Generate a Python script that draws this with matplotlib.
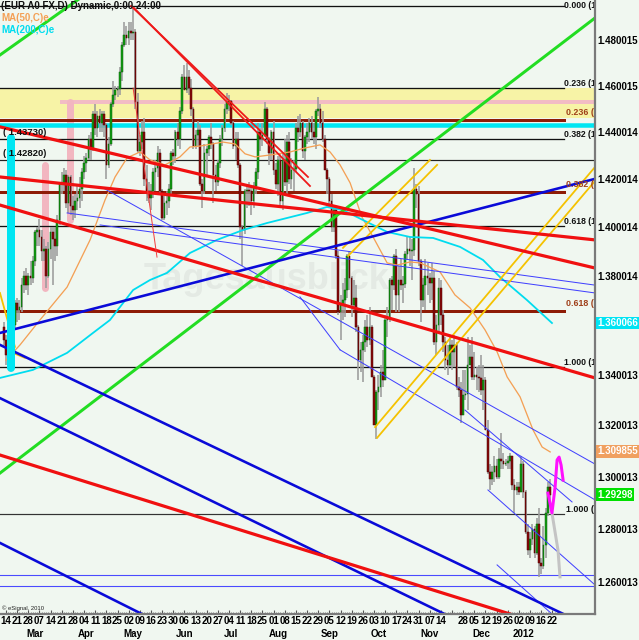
import numpy as np
import matplotlib
matplotlib.use("Agg")
import matplotlib.pyplot as plt
from matplotlib.ticker import NullLocator, FixedLocator
import matplotlib.transforms as mtransforms

# ---------------- data (EUR/USD daily) ----------------
first_index = -1   # first bar is one trading day before the first week label (14 Feb 2011)

opens = [1.3590,
 1.3540,1.3480,1.3510,1.3550,1.3600, 1.3690,1.3660,1.3670,1.3760,1.3800,
 1.3760,1.3800,1.3790,1.3860,1.3980, 1.3990,1.3960,1.3900,1.3910,1.3800,
 1.3910,1.3980,1.3950,1.3920,1.4030, 1.4180,1.4185,1.4220,1.4100,1.4210,
 1.4090,1.4070,1.4110,1.4120,1.4160, 1.4230,1.4270,1.4290,1.4370,1.4330,
 1.4480,1.4420,1.4470,1.4440,1.4480, 1.4430,1.4260,1.4350,1.4520,1.4560,
 1.4580,1.4585,1.4660,1.4780,1.4820, 1.4810,1.4840,1.4830,1.4835,1.4530,
 1.4320,1.4360,1.4400,1.4200,1.4150, 1.4120,1.4150,1.4230,1.4250,1.4310,
 1.4150,1.4040,1.4100,1.4110,1.4160, 1.4310,1.4300,1.4400,1.4370,1.4490,
 1.4640,1.4580,1.4640,1.4590,1.4500, 1.4340,1.4390,1.4410,1.4180,1.4150,
 1.4310,1.4330,1.4380,1.4350,1.4220, 1.4190,1.4270,1.4370,1.4420,1.4500,
 1.4530,1.4535,1.4440,1.4340,1.4370, 1.4260,1.4000,1.3990,1.4150,1.4155,
 1.4150,1.4110,1.4170,1.4230,1.4400, 1.4370,1.4390,1.4500,1.4370,1.4310,
 1.4400,1.4240,1.4180,1.4280,1.4110, 1.4280,1.4190,1.4360,1.4200,1.4240,
 1.4245,1.4420,1.4400,1.4440,1.4320, 1.4380,1.4400,1.4440,1.4400,1.4380,
 1.4490,1.4500,1.4440,1.4370,1.4240, 1.4200,1.4110,1.4000,1.4070,1.3880,
 1.3650,1.3680,1.3700,1.3740,1.3880, 1.3790,1.3680,1.3710,1.3590,1.3460,
 1.3500,1.3530,1.3590,1.3540,1.3590, 1.3390,1.3200,1.3330,1.3350,1.3410,
 1.3380,1.3620,1.3625,1.3780,1.3760, 1.3880,1.3720,1.3780,1.3760,1.3765,
 1.3890,1.3910,1.3900,1.3905,1.4160, 1.4140,1.3860,1.3700,1.3760,1.3800,
 1.3790,1.3770,1.3790,1.3530,1.3600, 1.3750,1.3640,1.3530,1.3460,1.3440,
 1.3520,1.3490,1.3520,1.3350,1.3340, 1.3240,1.3320,1.3325,1.3440,1.3470,
 1.3390,1.3400,1.3390,1.3385,1.3340, 1.3380,1.3180,1.3020,1.2990,1.3020,
 1.3040,1.3000,1.3070,1.3060,1.3050, 1.3055,1.3060,1.3080,1.2970,1.2950,
 1.2960,1.2940,1.3050,1.2940,1.2790, 1.2720,1.2760,1.2800,1.2710,1.2820,
 1.2670,1.2660,1.2740,1.2860,1.2960]

highs = [1.3610,
 1.3560,1.3530,1.3590,1.3630,1.3700, 1.3710,1.3700,1.3790,1.3820,1.3830,
 1.3810,1.3860,1.3880,1.3990,1.4000, 1.4035,1.3990,1.3950,1.3920,1.3940,
 1.4000,1.4000,1.4000,1.4050,1.4190, 1.4230,1.4250,1.4240,1.4220,1.4220,
 1.4130,1.4140,1.4170,1.4210,1.4250, 1.4300,1.4310,1.4390,1.4400,1.4490,
 1.4520,1.4490,1.4500,1.4490,1.4490, 1.4440,1.4380,1.4530,1.4620,1.4600,
 1.4600,1.4680,1.4790,1.4880,1.4860, 1.4880,1.4880,1.4940,1.4850,1.4570,
 1.4390,1.4450,1.4460,1.4260,1.4190, 1.4180,1.4250,1.4280,1.4340,1.4330,
 1.4160,1.4130,1.4150,1.4180,1.4320, 1.4330,1.4410,1.4440,1.4510,1.4650,
 1.4690,1.4700,1.4670,1.4630,1.4510, 1.4410,1.4450,1.4430,1.4200,1.4350,
 1.4340,1.4390,1.4440,1.4360,1.4260, 1.4280,1.4390,1.4430,1.4520,1.4570,
 1.4560,1.4540,1.4450,1.4400,1.4400, 1.4270,1.4010,1.4160,1.4180,1.4190,
 1.4170,1.4190,1.4250,1.4440,1.4420, 1.4440,1.4530,1.4510,1.4380,1.4410,
 1.4450,1.4270,1.4300,1.4310,1.4310, 1.4370,1.4390,1.4400,1.4290,1.4280,
 1.4440,1.4470,1.4480,1.4450,1.4390, 1.4440,1.4460,1.4470,1.4440,1.4500,
 1.4550,1.4520,1.4490,1.4390,1.4250, 1.4210,1.4140,1.4090,1.4080,1.3900,
 1.3720,1.3770,1.3790,1.3890,1.3900, 1.3800,1.3780,1.3760,1.3600,1.3530,
 1.3560,1.3620,1.3640,1.3670,1.3600, 1.3400,1.3340,1.3400,1.3440,1.3500,
 1.3640,1.3670,1.3790,1.3800,1.3890, 1.3910,1.3840,1.3870,1.3800,1.3900,
 1.3960,1.3960,1.3950,1.4250,1.4180, 1.4170,1.3870,1.3790,1.3870,1.3850,
 1.3810,1.3850,1.3820,1.3640,1.3790, 1.3780,1.3660,1.3550,1.3520,1.3560,
 1.3540,1.3560,1.3530,1.3390,1.3370, 1.3420,1.3420,1.3550,1.3520,1.3550,
 1.3490,1.3430,1.3440,1.3480,1.3440, 1.3390,1.3220,1.3050,1.3040,1.3080,
 1.3070,1.3110,1.3170,1.3090,1.3070, 1.3080,1.3090,1.3080,1.2990,1.2980,
 1.2980,1.3080,1.3060,1.2950,1.2820, 1.2790,1.2820,1.2810,1.2840,1.2880,
 1.2690,1.2810,1.2880,1.2980,1.2990]

lows = [1.3520,
 1.3440,1.3430,1.3480,1.3520,1.3580, 1.3610,1.3620,1.3650,1.3730,1.3740,
 1.3720,1.3760,1.3770,1.3840,1.3920, 1.3920,1.3860,1.3860,1.3750,1.3790,
 1.3870,1.3760,1.3860,1.3880,1.4010, 1.4140,1.4150,1.4080,1.4060,1.4050,
 1.4030,1.4040,1.4070,1.4080,1.4110, 1.4200,1.4230,1.4280,1.4280,1.4320,
 1.4390,1.4380,1.4400,1.4400,1.4380, 1.4200,1.4250,1.4340,1.4510,1.4540,
 1.4550,1.4560,1.4620,1.4770,1.4780, 1.4780,1.4800,1.4800,1.4500,1.4310,
 1.4300,1.4330,1.4170,1.4110,1.4100, 1.4070,1.4120,1.4150,1.4210,1.4140,
 1.4030,1.4030,1.4050,1.4080,1.4140, 1.4260,1.4270,1.4340,1.4330,1.4480,
 1.4580,1.4570,1.4560,1.4470,1.4330, 1.4330,1.4340,1.4170,1.4080,1.4140,
 1.4220,1.4300,1.4330,1.4100,1.4150, 1.4170,1.4250,1.4340,1.4400,1.4480,
 1.4490,1.4430,1.4330,1.4280,1.4250, 1.3950,1.3840,1.3970,1.4080,1.4090,
 1.4050,1.4080,1.4140,1.4200,1.4320, 1.4340,1.4380,1.4350,1.4260,1.4280,
 1.4220,1.4160,1.4130,1.4080,1.4070, 1.4170,1.4140,1.4180,1.4160,1.4150,
 1.4230,1.4360,1.4380,1.4290,1.4280, 1.4350,1.4360,1.4370,1.4350,1.4330,
 1.4470,1.4420,1.4360,1.4240,1.4140, 1.4080,1.3980,1.3980,1.3870,1.3640,
 1.3540,1.3620,1.3630,1.3710,1.3740, 1.3630,1.3660,1.3570,1.3380,1.3410,
 1.3370,1.3490,1.3510,1.3520,1.3390, 1.3200,1.3145,1.3260,1.3310,1.3350,
 1.3380,1.3550,1.3610,1.3660,1.3740, 1.3650,1.3650,1.3740,1.3690,1.3750,
 1.3870,1.3840,1.3780,1.3880,1.4080, 1.3840,1.3610,1.3670,1.3660,1.3720,
 1.3690,1.3700,1.3520,1.3480,1.3570, 1.3600,1.3490,1.3420,1.3400,1.3430,
 1.3420,1.3430,1.3340,1.3310,1.3210, 1.3240,1.3300,1.3260,1.3440,1.3380,
 1.3380,1.3340,1.3330,1.3320,1.3260, 1.3180,1.3010,1.2950,1.2970,1.2980,
 1.2990,1.2990,1.3030,1.3030,1.3040, 1.3030,1.3030,1.2950,1.2860,1.2930,
 1.2930,1.2940,1.2920,1.2780,1.2700, 1.2690,1.2740,1.2690,1.2700,1.2620,
 1.2630,1.2650,1.2690,1.2850,1.2900]

closes = [1.3540,
 1.3480,1.3510,1.3550,1.3600,1.3690, 1.3660,1.3670,1.3760,1.3800,1.3760,
 1.3800,1.3790,1.3860,1.3980,1.3990, 1.3960,1.3900,1.3910,1.3800,1.3910,
 1.3980,1.3950,1.3920,1.4030,1.4180, 1.4185,1.4220,1.4100,1.4210,1.4090,
 1.4070,1.4110,1.4120,1.4160,1.4230, 1.4270,1.4290,1.4370,1.4330,1.4480,
 1.4420,1.4470,1.4440,1.4480,1.4430, 1.4260,1.4350,1.4520,1.4560,1.4580,
 1.4585,1.4660,1.4780,1.4820,1.4810, 1.4840,1.4830,1.4835,1.4530,1.4320,
 1.4360,1.4400,1.4200,1.4150,1.4120, 1.4150,1.4230,1.4250,1.4310,1.4150,
 1.4040,1.4100,1.4110,1.4160,1.4310, 1.4300,1.4400,1.4370,1.4490,1.4640,
 1.4580,1.4640,1.4590,1.4500,1.4340, 1.4390,1.4410,1.4180,1.4150,1.4310,
 1.4330,1.4380,1.4350,1.4220,1.4190, 1.4270,1.4370,1.4420,1.4500,1.4530,
 1.4535,1.4440,1.4340,1.4370,1.4260, 1.4000,1.3990,1.4150,1.4155,1.4150,
 1.4110,1.4170,1.4230,1.4400,1.4370, 1.4390,1.4500,1.4370,1.4310,1.4400,
 1.4240,1.4180,1.4280,1.4110,1.4280, 1.4190,1.4360,1.4200,1.4240,1.4245,
 1.4420,1.4400,1.4440,1.4320,1.4380, 1.4400,1.4440,1.4400,1.4380,1.4490,
 1.4500,1.4440,1.4370,1.4240,1.4200, 1.4110,1.4000,1.4070,1.3880,1.3650,
 1.3680,1.3700,1.3740,1.3880,1.3790, 1.3680,1.3710,1.3590,1.3460,1.3500,
 1.3530,1.3590,1.3540,1.3590,1.3390, 1.3200,1.3330,1.3350,1.3410,1.3380,
 1.3620,1.3625,1.3780,1.3760,1.3880, 1.3720,1.3780,1.3760,1.3765,1.3890,
 1.3910,1.3900,1.3905,1.4160,1.4140, 1.3860,1.3700,1.3760,1.3800,1.3790,
 1.3770,1.3790,1.3530,1.3600,1.3750, 1.3640,1.3530,1.3460,1.3440,1.3520,
 1.3490,1.3520,1.3350,1.3340,1.3240, 1.3320,1.3325,1.3440,1.3470,1.3390,
 1.3400,1.3390,1.3385,1.3340,1.3380, 1.3180,1.3020,1.2990,1.3020,1.3040,
 1.3000,1.3070,1.3060,1.3050,1.3055, 1.3060,1.3080,1.2970,1.2950,1.2960,
 1.2940,1.3050,1.2940,1.2790,1.2720, 1.2760,1.2800,1.2710,1.2820,1.2670,
 1.2660,1.2740,1.2860,1.2960,1.2930]

week_labels = ["14","21","28","07","14","21","28","04","11","18","25","02","09","16",
               "23","30","06","13","20","27","04","11","18","25","01","08","15","22",
               "29","05","12","19","26","03","10","17","24","31","07","14","","28",
               "05","12","19","26","02","09","16","22"]
month_labels = ["Mar","Apr","May","Jun","Jul","Aug","Sep","Oct","Nov","Dec","2012"]
month_first_bar = [11, 34, 55, 78, 99, 120, 143, 165, 188, 211, 230]

ytick_vals = [1.480015,1.460015,1.440014,1.420014,1.400014,1.380014,
              1.340013,1.320013,1.300013,1.280013,1.260013]
ytick_text = ["1.480015","1.460015","1.440014","1.420014","1.400014","1.380014",
              "1.340013","1.320013","1.300013","1.280013","1.260013"]

ma50_idx = [0,6.3,15.2,27.4,37.7,44.4,48.9,54.3,60.1,64.6,71.3,78.0,82.5,87.0,97.3,
            102.7,107.2,111.7,118.4,127.4,134.1,140.8,145.3,149.8,154.3,159.6,164.6,
            170.9,175.3,181.2,185.7,194.6,201.3,208.1,214.8,220.2,224.7,230.5,236.3,240.4,244.0]
ma50_val = [1.3458,1.3519,1.3619,1.3753,1.3947,1.4113,1.4210,1.4291,1.4316,1.4282,1.4261,
            1.4295,1.4337,1.4341,1.4358,1.4350,1.4308,1.4295,1.4303,1.4316,1.4333,1.4346,
            1.4316,1.4261,1.4185,1.4042,1.3959,1.3852,1.3843,1.3856,1.3852,1.3815,1.3721,
            1.3668,1.3579,1.3491,1.3391,1.3312,1.3182,1.3115,1.3096]
ma200_idx = [-2.7,12.1,27.4,39.0,46.6,57.0,64.6,72.2,82.5,94.6,106.3,117.0,126.0,135.0,
             143.9,151.1,161.9,170.9,181.2,191.5,203.6,213.9,221.5,233.6,244.8]
ma200_val = [1.3387,1.3419,1.3487,1.3567,1.3619,1.3741,1.3782,1.3811,1.3893,1.3947,1.3988,
             1.4017,1.4038,1.4059,1.4084,1.4071,1.4021,1.3980,1.3959,1.3955,1.3918,1.3864,
             1.3794,1.3700,1.3607]

# trend lines: (index1, price1, index2, price2)
red_thick = [(-2.7,1.4423,264.1,1.3831),(-2.7,1.4210,264.1,1.3947),
             (-2.7,1.4092,264.1,1.3387),(-2.7,1.3084,264.1,1.2383)]
red_thin = [(56.1,1.4950,135.4,1.4210),(57.4,1.4941,136.3,1.4172)]
red_steep = [(57.0,1.4590,67.7,1.3876)]
green_lines = [(-2.7,1.4734,42.2,1.5048),(-2.7,1.3014,264.1,1.4897)]
blue_thick = [(-2.7,1.3567,264.1,1.4202),(-2.7,1.3519,264.1,1.2425),
              (-2.7,1.3307,264.1,1.2213),(-2.7,1.2747,131.8,1.2191)]
blue_thin = [(27.4,1.4059,264.1,1.3761),(42.2,1.4009,264.1,1.3729),(43.5,1.4164,264.1,1.3049),
             (131.8,1.3713,149.8,1.3499),(149.8,1.3499,264.1,1.2911),(205.8,1.3260,253.8,1.2903),
             (216.1,1.2949,264.1,1.2589),(220.2,1.2664,245.3,1.2477)]
blue_levels = [1.2626, 1.2585]
gold_lines = [(165.5,1.3193,264.1,1.4252),(166.4,1.3151,264.1,1.4193),
              (151.1,1.3914,190.1,1.4282),(153.4,1.3881,193.3,1.4261),
              (-2.7,1.3729,4.0,1.3511),(3.1,1.3487,8.5,1.3467)]
fib_black = [1.4950,1.4590,1.4373,1.4005,1.3431]
fib_black_lab = ["0.000 (1","0.236 (1","0.382 (1","0.618 (1","1.000 (1"]
fib_brown = [1.4452,1.4147,1.3656]
fib_brown_lab = ["0.236 (","0.382 (","0.618 ("]
fib_end = 1.2857
level_1428 = 1.4282
yellow_band = (1.4461, 1.4590)
pink_level = (24.2, 1.4530)
pink_bars = [(28.7,1.4530,1.4030),(17.5,1.4261,1.3749)]
cyan_level = 1.4431
cyan_bar = (2.2,1.4375,1.3427)
magenta_idx = [243.0,244.8,246.2,247.1,248.0,248.9,249.8]
magenta_val = [1.2937,1.2861,1.2960,1.3065,1.3076,1.3045,1.2987]
grey_idx = [244.8,247.5,248.4]
grey_val = [1.2861,1.2720,1.2619]
last_boxes = [(1.3607,"1.360066","#00e4f4"),(1.3099,"1.309855","#f0a060"),(1.2930,"1.29298","#00e000")]

# ---------------- figure ----------------
BG = "#f0f7f0"
FONT = ["Liberation Sans Narrow", "Liberation Sans", "DejaVu Sans"]
plt.rcParams["font.family"] = FONT
PX = 0.72  # points per pixel at 100 dpi

fig = plt.figure(figsize=(6.39, 6.40), dpi=100, facecolor=BG)
ax = fig.add_axes([0, 26/640, 595/639, 614/640], facecolor=BG)
ax.set_yscale("log")
ax.set_xlim(-2.69, 264.1)
ax.set_ylim(1.24808, 1.49766)

# watermark
ax.text(117, 1.3782, "Tagesausblick", fontsize=26, fontweight="bold", color="#e4eae4",
        ha="center", va="center", zorder=0.5, family=["Liberation Sans", "DejaVu Sans"])

# bands and horizontal levels
ax.axhspan(yellow_band[0], yellow_band[1], color="#f7f3a6", zorder=1, lw=0)
ax.plot([pink_level[0], 264.1], [pink_level[1]]*2, color="#f2bcc4", lw=4*PX, zorder=1.2,
        solid_capstyle="butt")
for xi, p1, p2 in pink_bars:
    ax.plot([xi, xi], [p1, p2], color="#f2b6c0", lw=7*PX, zorder=1.2, solid_capstyle="round")
ax.axhline(cyan_level, color="#00e6f2", lw=4.5*PX, zorder=1.3)
ax.plot([cyan_bar[0]]*2, [cyan_bar[1], cyan_bar[2]], color="#00e6f2", lw=8*PX,
        zorder=3.5, solid_capstyle="round")

lab_x = 250.0
for k, (p, t) in enumerate(zip(fib_black, fib_black_lab)):
    ax.plot([-2.7, lab_x], [p, p], color="#111111", lw=1.3*PX, zorder=1.4)
    if k == 0:
        ax.text(lab_x, 1 - 0.5/614, t, transform=mtransforms.blended_transform_factory(
                ax.transData, ax.transAxes), fontsize=6.2, fontweight="bold",
                color="#111111", ha="left", va="top", zorder=6)
    else:
        ax.text(lab_x, p, t, fontsize=6.2, fontweight="bold", color="#111111",
                ha="left", va="bottom", zorder=6)
for p, t in zip(fib_brown, fib_brown_lab):
    ax.plot([-2.7, lab_x], [p, p], color="#8e1c06", lw=3*PX, zorder=1.4)
    ax.text(lab_x+1, p*1.001, t, fontsize=6.4, fontweight="bold", color="#a0401a",
            ha="left", va="bottom", zorder=6)
ax.plot([-2.7, lab_x], [fib_end]*2, color="#333333", lw=1.2*PX, zorder=1.4)
ax.text(lab_x+1, fib_end, "1.000 (", fontsize=6.4, fontweight="bold", color="#111111",
        ha="left", va="bottom", zorder=6)
ax.axhline(level_1428, color="#222222", lw=1.2*PX, zorder=1.4)
ax.text(-1.5, fib_black[2]*1.0005, "( 1.43730)", fontsize=6.8, fontweight="bold",
        color="#111111", ha="left", va="bottom", zorder=6)
ax.text(-1.5, level_1428*1.0005, "( 1.42820)", fontsize=6.8, fontweight="bold",
        color="#111111", ha="left", va="bottom", zorder=6)
for p in blue_levels:
    ax.axhline(p, color="#4a4aff", lw=1.1*PX, zorder=1.5)

# candles
idx = np.arange(len(closes)) + first_index
o = np.array(opens); h = np.array(highs); l = np.array(lows); c = np.array(closes)
ax.vlines(idx, l, h, color="#9c9c9c", lw=1.6*PX, zorder=2)
up = c >= o
body_lo = np.minimum(o, c); body_h = np.maximum(np.abs(c - o), 0.0004)
ax.bar(idx[up], body_h[up], bottom=body_lo[up], width=0.72, color="#12a012",
       edgecolor="#0a5a0a", lw=0.35, zorder=2.2)
ax.bar(idx[~up], body_h[~up], bottom=body_lo[~up], width=0.72, color="#8a0a0a",
       edgecolor="#4a0000", lw=0.35, zorder=2.2)

# moving averages
ax.plot(ma50_idx, ma50_val, color="#f4a055", lw=1.3*PX, zorder=3)
ax.plot(ma200_idx, ma200_val, color="#00dcef", lw=1.8*PX, zorder=3)

def seg(lst, **kw):
    for a, b, cc, d in lst:
        ax.plot([a, cc], [b, d], **kw)

seg(blue_thin, color="#4040ff", lw=1.0*PX, zorder=3.2)
seg(gold_lines, color="#f5c200", lw=1.8*PX, zorder=3.3)
seg(green_lines, color="#22dd22", lw=3*PX, zorder=3.4)
seg(blue_thick, color="#0a0ad8", lw=2.6*PX, zorder=3.4)
seg(red_thick, color="#f01010", lw=3.2*PX, zorder=3.5)
seg(red_thin, color="#ee1a1a", lw=1.8*PX, zorder=3.5)
seg(red_steep, color="#f04040", lw=1.0*PX, zorder=3.5)
ax.plot(grey_idx, grey_val, color="#c4c4c4", lw=3*PX, zorder=3.6)
ax.plot(magenta_idx, magenta_val, color="#ff10ff", lw=3*PX, zorder=3.7)

# axes styling
for s in ["top", "left"]:
    ax.spines[s].set_visible(False)
for s in ["right", "bottom"]:
    ax.spines[s].set_color("#7a7a7a")
    ax.spines[s].set_linewidth(1.6)
    ax.spines[s].set_zorder(8)

ax.yaxis.set_ticks_position("right")
ax.yaxis.set_major_locator(FixedLocator(ytick_vals))
ax.yaxis.set_minor_locator(NullLocator())
ax.set_yticklabels(ytick_text)
ax.tick_params(axis="y", which="both", length=0, pad=2, labelsize=7)
for t in ax.get_yticklabels():
    t.set_fontweight("bold")

week_pos = [5*k for k in range(len(week_labels))]
ax.set_xticks(week_pos)
ax.set_xticklabels([])
ax.xaxis.set_minor_locator(FixedLocator(np.arange(0, 250)))
ax.tick_params(axis="x", which="major", direction="in", length=3, color="#555555")
ax.tick_params(axis="x", which="minor", direction="in", length=1.5, color="#777777")
tr = mtransforms.blended_transform_factory(ax.transData, ax.transAxes)
for xp, t in zip(week_pos, week_labels):
    ax.text(xp, -7/614, t, transform=tr, fontsize=7, fontweight="bold", ha="center",
            va="center", clip_on=False)
for fb, t in zip(month_first_bar, month_labels):
    ax.text(fb + 2, -20/614, t, transform=tr, fontsize=7, fontweight="bold", ha="center",
            va="center", clip_on=False)

# last-value boxes on the price axis
trr = mtransforms.blended_transform_factory(ax.transAxes, ax.transData)
for p, t, col in last_boxes:
    ax.text(1.004, p, t, transform=trr, fontsize=7, fontweight="bold", color="white",
            ha="left", va="center", clip_on=False, zorder=10,
            bbox=dict(boxstyle="square,pad=0.15", fc=col, ec="none"))

# header texts
fig.text(1/639, 1 - 6/640, "(EUR A0 FX,D) Dynamic,0:00 24:00", fontsize=7, fontweight="bold",
         color="#111111", ha="left", va="center")
fig.text(1/639, 1 - 18/640, "MA(50,C)e", fontsize=7, fontweight="bold", color="#f4a055",
         ha="left", va="center")
fig.text(1/639, 1 - 30/640, "MA(200,C)e", fontsize=7, fontweight="bold", color="#00dcef",
         ha="left", va="center")
ax.text(0.004, 6/614, "\u00a9 eSignal, 2010", transform=ax.transAxes, fontsize=4.2,
        color="#222222", ha="left", va="center")

fig.savefig("out.png", dpi=100, facecolor=BG)
